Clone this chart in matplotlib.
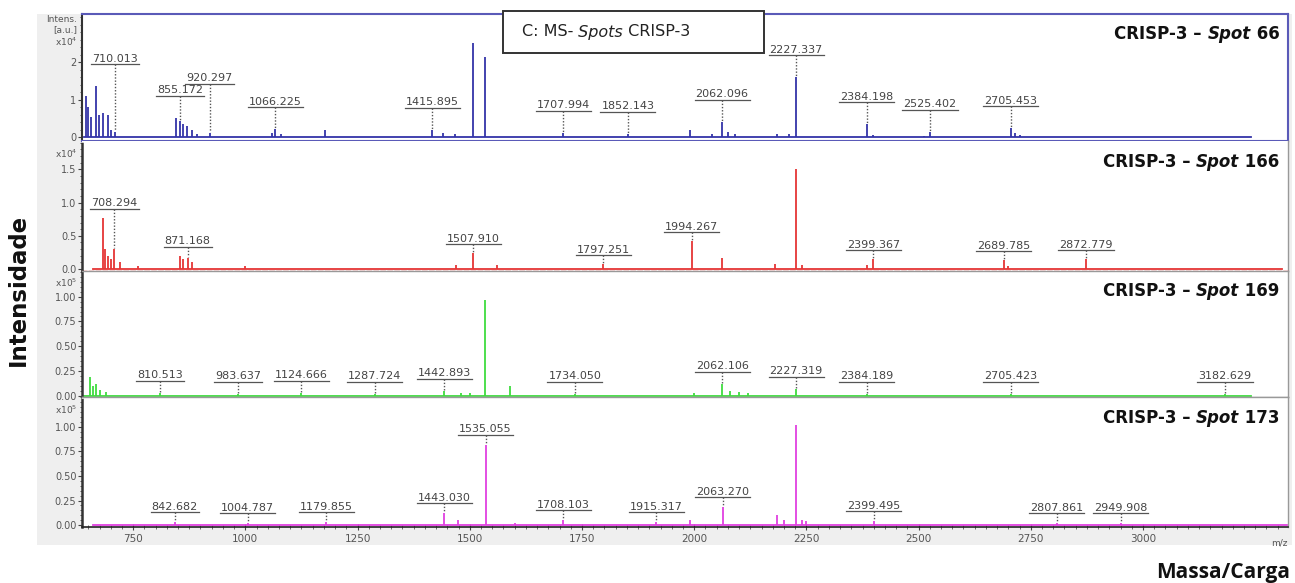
import numpy as np
import matplotlib.pyplot as plt
from matplotlib.patches import Rectangle
from matplotlib.ticker import MultipleLocator, FormatStrFormatter

# ---- peak lists (m/z, intensity in units of the panel exponent) ----
spots = ["66", "166", "169", "173"]
exponents = [4, 4, 5, 5]
mz_ranges = [(640, 3240), (660, 3310), (640, 3240), (660, 3320)]

labels_66 = ["710.013", "855.172", "920.297", "1066.225", "1415.895", "1707.994",
             "1852.143", "2062.096", "2227.337", "2384.198", "2525.402", "2705.453"]
heights_66 = [0.15, 0.45, 0.12, 0.22, 0.2, 0.12, 0.1, 0.42, 1.6, 0.35, 0.15, 0.25]
other_mz_66 = [645, 650, 656, 668, 673, 683, 694, 700, 845, 862, 870, 880, 892,
               1060, 1080, 1178, 1440, 1466, 1507.9, 1535.0, 1990, 2040, 2075,
               2090, 2185, 2211, 2398, 2511, 2715, 2726]
other_h_66 = [1.1, 0.8, 0.55, 1.36, 0.6, 0.64, 0.6, 0.2, 0.53, 0.35, 0.3, 0.2, 0.1,
              0.12, 0.1, 0.2, 0.12, 0.1, 2.5, 2.13, 0.2, 0.1, 0.15, 0.1, 0.1, 0.08,
              0.06, 0.05, 0.12, 0.06]

labels_166 = ["708.294", "871.168", "1507.910", "1797.251", "1994.267",
              "2399.367", "2689.785", "2872.779"]
heights_166 = [0.3, 0.17, 0.24, 0.07, 0.42, 0.15, 0.13, 0.15]
other_mz_166 = [683, 688, 695, 700, 720, 760, 855, 862, 880, 1000, 1470, 1560,
                2062, 2180, 2227.3, 2240, 2385, 2700]
other_h_166 = [0.77, 0.3, 0.2, 0.15, 0.1, 0.05, 0.2, 0.15, 0.1, 0.05, 0.06, 0.06,
               0.17, 0.08, 1.5, 0.06, 0.06, 0.05]

labels_169 = ["810.513", "983.637", "1124.666", "1287.724", "1442.893", "1734.050",
              "2062.106", "2227.319", "2384.189", "2705.423", "3182.629"]
heights_169 = [0.03, 0.02, 0.03, 0.02, 0.05, 0.02, 0.12, 0.07, 0.02, 0.02, 0.02]
other_mz_169 = [654, 660, 668, 675, 690, 1480, 1500, 1535.0, 1590, 2000, 2080,
                2100, 2120]
other_h_169 = [0.19, 0.1, 0.12, 0.06, 0.04, 0.03, 0.03, 0.97, 0.1, 0.03, 0.05,
               0.04, 0.03]

labels_173 = ["842.682", "1004.787", "1179.855", "1443.030", "1535.055", "1708.103",
              "1915.317", "2063.270", "2399.495", "2807.861", "2949.908"]
heights_173 = [0.03, 0.02, 0.03, 0.12, 0.82, 0.05, 0.03, 0.18, 0.04, 0.02, 0.02]
other_mz_173 = [1474, 1600, 1991, 2185, 2200, 2227.3, 2240, 2250]
other_h_173 = [0.05, 0.02, 0.05, 0.1, 0.05, 1.02, 0.05, 0.04]

x_ticks = [750, 1000, 1250, 1500, 1750, 2000, 2250, 2500, 2750, 3000]

# ---- styling ----
W, H = 1295, 583
colors = ["#3434a8", "#e53535", "#3fdc3f", "#e040e0"]
ylims = [(-0.107, 3.28), (-0.03, 1.92), (-0.02, 1.26), (-0.02, 1.30)]
ytick_sets = [[0, 1, 2], [0, 0.5, 1.0, 1.5], [0, 0.25, 0.5, 0.75, 1.0],
              [0, 0.25, 0.5, 0.75, 1.0]]
yfmt = ["%d", "%.1f", "%.2f", "%.2f"]
label_pad = [22, 9, 12, 10]
title_kw = dict(fontsize=12, fontweight="bold", family="DejaVu Sans", color="#111")

panels = [
    (labels_66, heights_66, other_mz_66, other_h_66),
    (labels_166, heights_166, other_mz_166, other_h_166),
    (labels_169, heights_169, other_mz_169, other_h_169),
    (labels_173, heights_173, other_mz_173, other_h_173),
]

fig = plt.figure(figsize=(W / 100, H / 100), dpi=100)
fig.patches.append(Rectangle((37 / W, 1 - 545 / H), (1292 - 37) / W, (545 - 14) / H,
                             transform=fig.transFigure, fc="#efefef", ec="none",
                             zorder=-1))
gs = fig.add_gridspec(4, 1, left=82 / W, right=1288 / W, top=1 - 14 / H,
                      bottom=1 - 527 / H, hspace=0, height_ratios=[127, 129, 126, 129])
axes = [fig.add_subplot(gs[i]) for i in range(4)]

for i, ax in enumerate(axes):
    labels, heights, omz, oh = panels[i]
    mz = np.array([float(s) for s in labels] + omz)
    h = np.array(heights + oh)
    ax.set_xlim(636, 3323)
    ax.set_ylim(*ylims[i])
    ax.set_facecolor("white")
    lo, hi = mz_ranges[i]
    ax.plot([lo, hi], [0, 0], color=colors[i], lw=1.3, zorder=2)
    ax.vlines(mz, 0, h, color=colors[i], lw=1.3, zorder=2)

    ax.set_yticks(ytick_sets[i])
    ax.yaxis.set_major_formatter(FormatStrFormatter(yfmt[i]))
    ax.yaxis.set_minor_locator(MultipleLocator((ytick_sets[i][1] - ytick_sets[i][0]) / 5))
    ax.tick_params(axis="y", labelsize=7, labelcolor="#555", color="#444",
                   length=3, width=0.8, pad=1)
    ax.tick_params(axis="y", which="minor", length=1.5, color="#444")
    ax.spines["left"].set_color("#333")
    ax.spines["left"].set_linewidth(1.8)
    ax.spines["left"].set_linestyle((0, (1, 1)))
    for s in ("top", "right", "bottom"):
        ax.spines[s].set_color("#999")
        ax.spines[s].set_linewidth(1.0)
    if i < 3:
        ax.tick_params(axis="x", bottom=False, labelbottom=False)
        ax.tick_params(axis="x", which="minor", bottom=False)

    # exponent tag at top of the intensity axis
    if i == 0:
        tag = "Intens.\n[a.u.]\nx10$^{%d}$" % exponents[i]
        ax.text(-0.004, 0.995, tag, transform=ax.transAxes, ha="right", va="top",
                fontsize=6.5, color="#555", linespacing=1.15)
    else:
        ax.text(-0.004, 0.955, "x10$^{%d}$" % exponents[i], transform=ax.transAxes,
                ha="right", va="top", fontsize=6.5, color="#555")

    # right-hand spot title
    t3 = ax.annotate(" " + spots[i], xy=(0.993, 1), xycoords="axes fraction",
                     xytext=(0, -8), textcoords="offset points", ha="right",
                     va="top", **title_kw)
    t2 = ax.annotate("Spot", xy=(0, 0), xycoords=t3, ha="right", va="bottom",
                     style="italic", **title_kw)
    ax.annotate("CRISP-3 \u2013 ", xy=(0, 0), xycoords=t2, ha="right",
                va="bottom", **title_kw)

# first panel: blue frame
for s in axes[0].spines.values():
    s.set_color("#5a5ab8")
    s.set_linewidth(1.5)
axes[0].spines["left"].set_color("#333")
axes[1].spines["top"].set_visible(False)
axes[1].spines["bottom"].set_color(colors[1])
axes[1].spines["bottom"].set_linestyle((0, (3, 2)))
axes[3].spines["bottom"].set_color("#222")
axes[3].spines["bottom"].set_linewidth(1.2)

axes[3].set_xticks(x_ticks)
axes[3].xaxis.set_minor_locator(MultipleLocator(25))
axes[3].tick_params(axis="x", labelsize=7.5, labelcolor="#555", color="#444",
                    length=4, direction="inout", pad=3)
axes[3].tick_params(axis="x", which="minor", length=2.5, direction="inout",
                    color="#555")
axes[3].text(1.0, -0.085, "m/z", transform=axes[3].transAxes, ha="right",
             va="top", fontsize=6.5, color="#555")

# peak labels: underlined m/z text with a dotted leader to the peak
renderer = fig.canvas.get_renderer()
for i, ax in enumerate(axes):
    labels, heights, omz, oh = panels[i]
    mz_all = np.array([float(s) for s in labels] + omz)
    h_all = np.array(heights + oh)
    pts = ax.transData.transform(np.column_stack([mz_all, h_all]))
    inv = ax.transData.inverted()
    placed = []
    for lab, hv in zip(labels, heights):
        m = float(lab)
        t = ax.text(m, 0, lab, fontsize=8, color="#444", ha="center",
                    va="bottom", zorder=5)
        bb = t.get_window_extent(renderer)
        w, th = bb.width, bb.height
        xp, _ = ax.transData.transform((m, 0))
        under = np.abs(pts[:, 0] - xp) < w / 2 + 2
        yp = pts[under, 1].max() + label_pad[i]
        moved = True
        while moved:
            moved = False
            for px, py, pw in placed:
                if abs(px - xp) < (pw + w) / 2 + 2 and abs(py - yp) < th + 1:
                    yp = py + th + 2
                    moved = True
        placed.append((xp, yp, w))
        x0, yd = inv.transform((xp - w / 2 - 1, yp))
        x1, _ = inv.transform((xp + w / 2 + 1, yp))
        _, ytext = inv.transform((xp, yp + 0.5))
        t.set_position((m, ytext))
        ax.plot([x0, x1], [yd, yd], color="#555", lw=0.9, zorder=5)
        _, ytop = inv.transform((xp, ax.transData.transform((m, hv))[1] + 1))
        ax.plot([m, m], [yd, ytop], color="#555", lw=1.0, ls=(0, (1, 1.3)),
                zorder=4)

# header box
box = Rectangle((503 / W, 1 - 53 / H), (764 - 503) / W, 42 / H,
                transform=fig.transFigure, fc="white", ec="#333", lw=1.4,
                clip_on=False, zorder=10)
axes[0].add_artist(box)
hdr_kw = dict(fontsize=11.5, family="DejaVu Sans", color="#222", zorder=11,
              annotation_clip=False)
h1 = axes[0].annotate("C: MS-", xy=(522 / W, 1 - 32 / H), xycoords="figure fraction",
                      ha="left", va="center", **hdr_kw)
h2 = axes[0].annotate(" Spots", xy=(1, 0), xycoords=h1, ha="left", va="bottom",
                      style="italic", **hdr_kw)
axes[0].annotate(" CRISP-3", xy=(1, 0), xycoords=h2, ha="left", va="bottom",
                 **hdr_kw)

fig.text(18 / W, 1 - 290 / H, "Intensidade", rotation=90, ha="center", va="center",
         fontsize=16.5, fontweight="bold", family="DejaVu Sans", color="#111")
fig.text(0.996, 1 - 578 / H, "Massa/Carga", ha="right", va="baseline",
         fontsize=15, fontweight="bold", family="Open Sans", color="#111")

fig.savefig("out.png", dpi=100)
